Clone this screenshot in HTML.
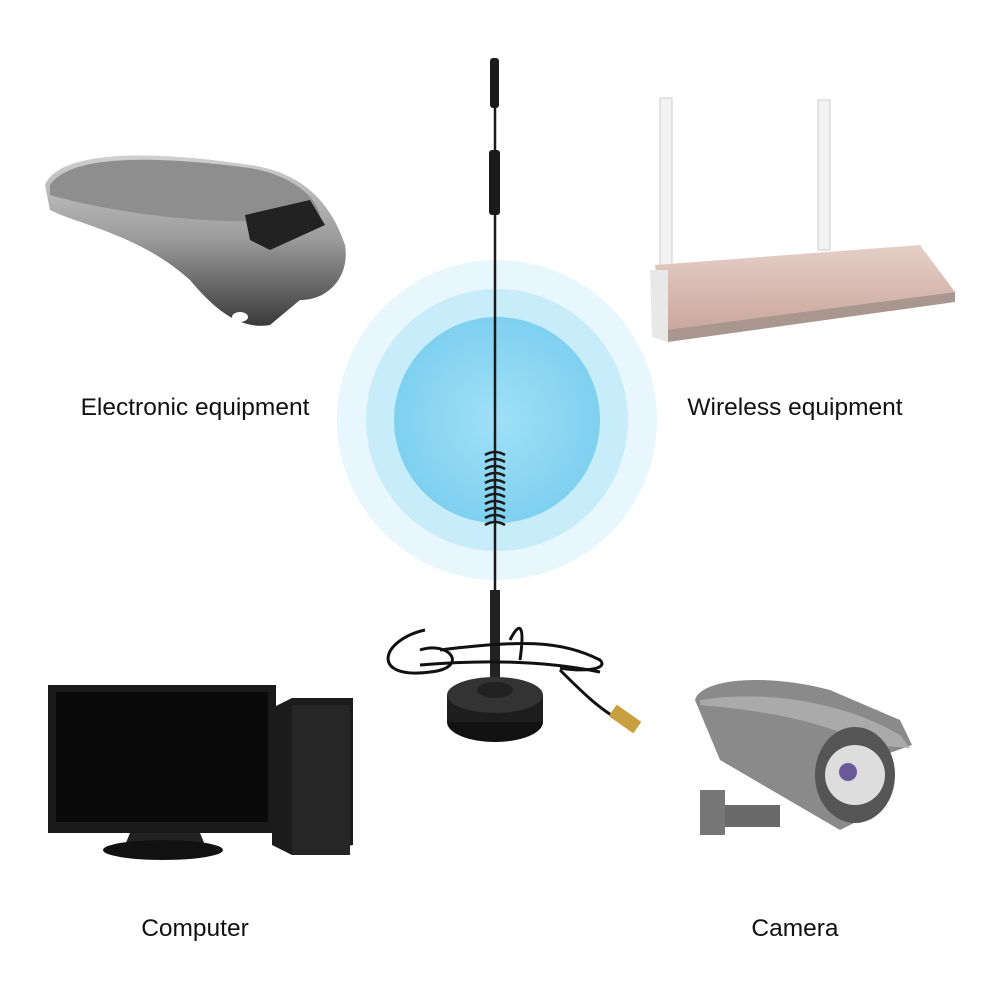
<!DOCTYPE html>
<html><head><meta charset="utf-8"><style>
html,body{margin:0;padding:0;background:#fff;}
#c{position:relative;width:1000px;height:1000px;overflow:hidden;font-family:"Liberation Sans",Arial,sans-serif;}
.l{position:absolute;font-size:24.5px;color:#111;text-align:center;width:340px;}
</style></head><body><div id="c">
<svg width="1000" height="1000" style="position:absolute;left:0;top:0">
<defs>
<radialGradient id="g1" cx="50%" cy="50%" r="50%"><stop offset="0" stop-color="#9fe0f7"/><stop offset="1" stop-color="#7fd0f0"/></radialGradient>
<linearGradient id="sp" x1="0" x2="0" y1="0" y2="1"><stop offset="0" stop-color="#d0d0d0"/><stop offset="0.5" stop-color="#9a9a9a"/><stop offset="1" stop-color="#3a3a3a"/></linearGradient>
<linearGradient id="rt" x1="0" x2="0" y1="0" y2="1"><stop offset="0" stop-color="#e6cfc8"/><stop offset="1" stop-color="#c9a79e"/></linearGradient>
</defs>
<circle cx="497" cy="420" r="160" fill="#e8f7fd"/>
<circle cx="497" cy="420" r="131" fill="#c7ecfa"/>
<circle cx="497" cy="420" r="103" fill="url(#g1)"/>
<rect x="490" y="58" width="9" height="50" rx="3" fill="#1a1a1a"/>
<line x1="495" y1="100" x2="495" y2="600" stroke="#1a1a1a" stroke-width="2.5"/>
<rect x="489" y="150" width="11" height="65" rx="3" fill="#1a1a1a"/>
<g stroke="#1a1a1a" stroke-width="2.5" fill="none">
<path d="M485 455 Q495 449 505 455 M485 462 Q495 456 505 462 M485 469 Q495 463 505 469 M485 476 Q495 470 505 476 M485 483 Q495 477 505 483 M485 490 Q495 484 505 490 M485 497 Q495 491 505 497 M485 504 Q495 498 505 504 M485 511 Q495 505 505 511 M485 518 Q495 512 505 518 M485 525 Q495 519 505 525"/>
</g>
<rect x="490" y="590" width="10" height="90" fill="#222"/>
<path d="M425 630 C380 640 370 680 430 672 C470 668 450 640 420 650 M440 650 C520 640 560 640 600 660 C610 670 580 672 560 668 M420 665 C480 660 540 660 600 672 M510 640 C520 620 525 625 520 660 M560 670 C580 690 600 710 620 720" stroke="#111" stroke-width="3" fill="none"/>
<ellipse cx="495" cy="722" rx="48" ry="20" fill="#111"/>
<rect x="447" y="695" width="96" height="27" fill="#1d1d1d"/>
<ellipse cx="495" cy="695" rx="48" ry="18" fill="#333"/>
<ellipse cx="495" cy="690" rx="18" ry="8" fill="#222"/>
<rect x="610" y="712" width="30" height="14" fill="#c9a040" transform="rotate(35 625 719)"/>
<!-- headset -->
<path d="M45 185 C60 150 150 150 250 165 C300 172 330 200 345 245 C350 275 330 300 300 300 L270 325 C240 330 215 310 190 280 C140 235 80 225 50 210 Z" fill="url(#sp)"/>
<path d="M50 185 C70 155 150 155 250 168 C290 175 315 195 320 215 C240 230 120 215 50 195 Z" fill="#8e8e8e"/>
<path d="M245 215 L310 200 L325 225 L270 250 L250 240 Z" fill="#222"/>
<ellipse cx="240" cy="317" rx="8" ry="5" fill="#fff"/>
<!-- router -->
<rect x="660" y="98" width="12" height="190" fill="#f2f2f2" stroke="#ccc"/>
<rect x="818" y="100" width="12" height="150" fill="#f2f2f2" stroke="#ccc"/>
<path d="M655 265 L920 245 L955 292 L665 330 Z" fill="url(#rt)"/>
<path d="M665 330 L955 292 L955 302 L668 342 Z" fill="#a9968f"/>
<path d="M650 270 L668 270 L668 342 L652 337 Z" fill="#e8e8e8"/>
<!-- computer -->
<rect x="48" y="685" width="228" height="148" fill="#1a1a1a"/>
<rect x="56" y="692" width="212" height="130" fill="#0a0a0a"/>
<path d="M130 833 L200 833 L205 845 L125 845 Z" fill="#222"/>
<ellipse cx="163" cy="850" rx="60" ry="10" fill="#111"/>
<path d="M272 708 L292 698 L353 698 L353 845 L292 855 L272 845 Z" fill="#1c1c1c"/>
<rect x="292" y="705" width="58" height="150" fill="#262626"/>
<!-- camera -->
<path d="M695 700 C700 680 760 672 830 690 L900 720 L912 745 L870 760 L860 820 L840 830 L720 760 Z" fill="#8a8a8a"/>
<path d="M700 700 C760 690 840 700 900 735 L910 748 L870 745 C820 720 760 710 700 705 Z" fill="#aaa"/>
<ellipse cx="855" cy="775" rx="40" ry="48" fill="#555"/>
<circle cx="855" cy="775" r="30" fill="#ddd"/>
<circle cx="848" cy="772" r="9" fill="#6a5a9a"/>
<rect x="700" y="790" width="25" height="45" fill="#777"/>
<rect x="725" y="805" width="55" height="22" fill="#6a6a6a"/>
</svg>
<div class="l" style="left:25px;top:394px">Electronic equipment</div>
<div class="l" style="left:625px;top:394px">Wireless equipment</div>
<div class="l" style="left:25px;top:915px">Computer</div>
<div class="l" style="left:625px;top:915px">Camera</div>
</div></body></html>
